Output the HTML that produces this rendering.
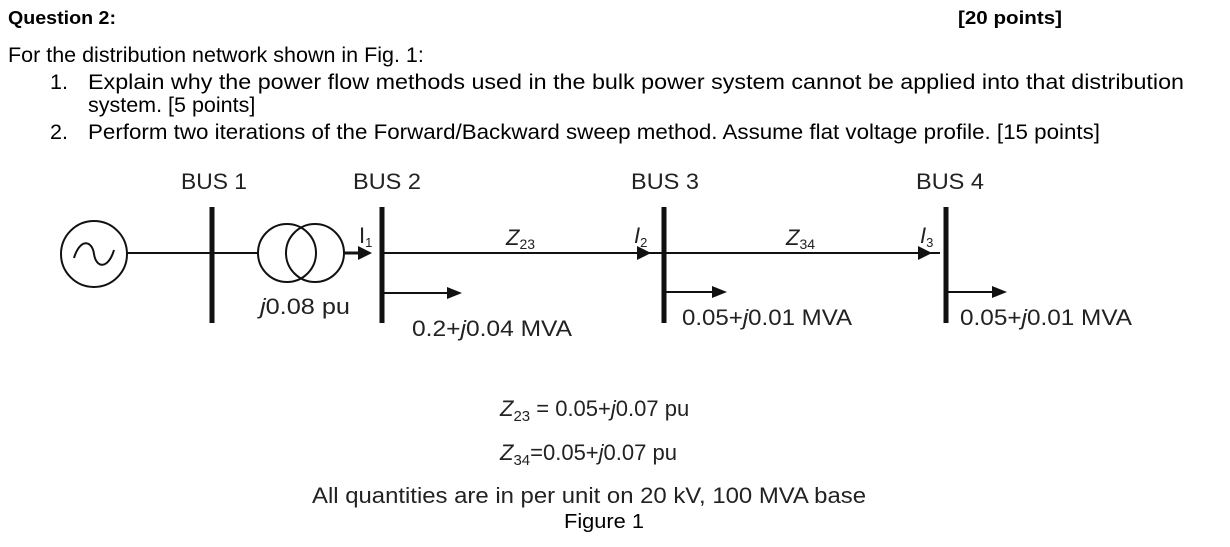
<!DOCTYPE html>
<html><head><meta charset="utf-8"><style>
html,body{margin:0;padding:0;background:#fff;}
svg{display:block;font-family:"Liberation Sans",Arial,sans-serif;}
</style></head><body>
<svg width="1230" height="547" viewBox="0 0 1230 547" xmlns="http://www.w3.org/2000/svg">
<g fill="#000">
<text x="8" y="24" font-size="18" font-weight="bold" textLength="108" lengthAdjust="spacingAndGlyphs">Question 2:</text>
<text x="958" y="24" font-size="18" font-weight="bold" textLength="104" lengthAdjust="spacingAndGlyphs">[20 points]</text>
<text x="8" y="62" font-size="21.5">For the distribution network shown in Fig. 1:</text>
<text x="50" y="89" font-size="21.5">1.</text>
<text x="88" y="89" font-size="21.5" textLength="1096" lengthAdjust="spacingAndGlyphs">Explain why the power flow methods used in the bulk power system cannot be applied into that distribution</text>
<text x="88" y="112" font-size="21.5">system. [5 points]</text>
<text x="50" y="139" font-size="21.5">2.</text>
<text x="88" y="139" font-size="21.5" textLength="1012" lengthAdjust="spacingAndGlyphs">Perform two iterations of the Forward/Backward sweep method. Assume flat voltage profile. [15 points]</text>
</g>
<g fill="#222" font-size="22">
<text x="181" y="189" textLength="66" lengthAdjust="spacingAndGlyphs">BUS 1</text>
<text x="353" y="189" textLength="68" lengthAdjust="spacingAndGlyphs">BUS 2</text>
<text x="631" y="189" textLength="68" lengthAdjust="spacingAndGlyphs">BUS 3</text>
<text x="916" y="189" textLength="68" lengthAdjust="spacingAndGlyphs">BUS 4</text>
</g>
<g stroke="#111" fill="none">
<circle cx="94" cy="254" r="33" stroke-width="2"/>
<path d="M74 258 C80 238, 92 240, 94 254 C96 268, 108 270, 114 250" stroke-width="2"/>
<line x1="127" y1="253" x2="257" y2="253" stroke-width="2"/>
<circle cx="287" cy="253" r="29" stroke-width="2"/>
<circle cx="315" cy="253" r="29" stroke-width="2"/>
<line x1="344" y1="253" x2="362" y2="253" stroke-width="3"/>
<line x1="382" y1="253" x2="940" y2="253" stroke-width="2"/>
<line x1="212" y1="207" x2="212" y2="323" stroke-width="5"/>
<line x1="382" y1="207" x2="382" y2="323" stroke-width="5"/>
<line x1="664" y1="207" x2="664" y2="323" stroke-width="5"/>
<line x1="946" y1="207" x2="946" y2="323" stroke-width="5"/>
<line x1="382" y1="293" x2="450" y2="293" stroke-width="2"/>
<line x1="664" y1="292" x2="715" y2="292" stroke-width="2"/>
<line x1="946" y1="292" x2="995" y2="292" stroke-width="2"/>
</g>
<g fill="#111">
<polygon points="358,246 372,253 358,260"/>
<polygon points="637,246 651,253 637,260"/>
<polygon points="918,246 932,253 918,260"/>
<polygon points="447,287 462,293 447,299"/>
<polygon points="712,286 727,292 712,298"/>
<polygon points="992,286 1007,292 992,298"/>
</g>
<g fill="#222" font-size="22">
<text x="359" y="243">I<tspan font-size="13" dy="4">1</tspan></text>
<text x="634" y="243" font-style="italic">I<tspan font-size="13" dy="4" font-style="normal">2</tspan></text>
<text x="920" y="243" font-style="italic">I<tspan font-size="13" dy="4" font-style="normal">3</tspan></text>
<text x="506" y="245" font-style="italic">Z<tspan font-size="14" dy="4" font-style="normal">23</tspan></text>
<text x="786" y="245" font-style="italic">Z<tspan font-size="14" dy="4" font-style="normal">34</tspan></text>
<text x="260" y="314" textLength="90" lengthAdjust="spacingAndGlyphs"><tspan font-style="italic">j</tspan>0.08 pu</text>
<text x="412" y="336" textLength="160" lengthAdjust="spacingAndGlyphs">0.2+<tspan font-style="italic">j</tspan>0.04 MVA</text>
<text x="682" y="325" textLength="170" lengthAdjust="spacingAndGlyphs">0.05+<tspan font-style="italic">j</tspan>0.01 MVA</text>
<text x="960" y="325" textLength="172" lengthAdjust="spacingAndGlyphs">0.05+<tspan font-style="italic">j</tspan>0.01 MVA</text>
</g>
<g fill="#222" font-size="22">
<text x="500" y="416" font-style="italic">Z<tspan font-size="15" dy="5" font-style="normal">23</tspan><tspan dy="-5" font-style="normal"> = 0.05+</tspan>j<tspan font-style="normal">0.07 pu</tspan></text>
<text x="500" y="460" font-style="italic">Z<tspan font-size="15" dy="5" font-style="normal">34</tspan><tspan dy="-5" font-style="normal">=0.05+</tspan>j<tspan font-style="normal">0.07 pu</tspan></text>
<text x="312" y="503" textLength="554" lengthAdjust="spacingAndGlyphs">All quantities are in per unit on 20 kV, 100 MVA base</text>
</g>
<text x="564" y="528" font-size="20" fill="#000" textLength="80" lengthAdjust="spacingAndGlyphs">Figure 1</text>
</svg>
</body></html>
